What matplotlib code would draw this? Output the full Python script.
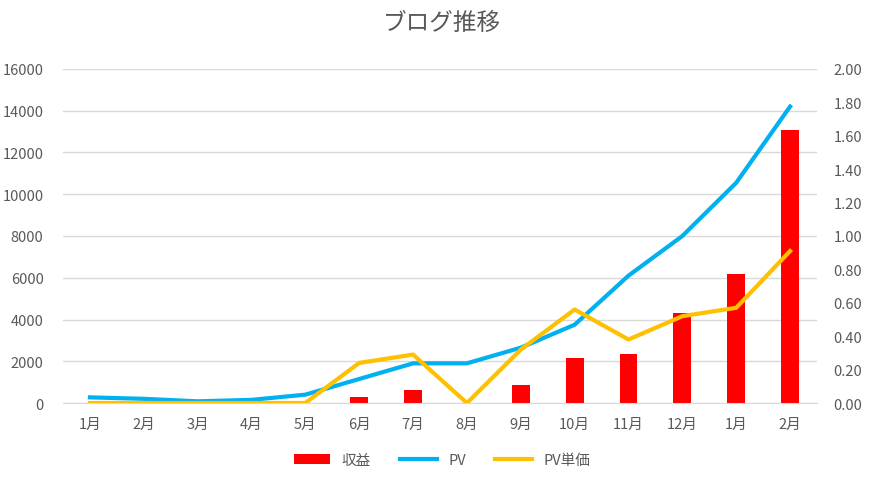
import matplotlib.pyplot as plt

plt.rcParams["font.family"] = ["Noto Sans CJK JP"]

months = ["1月", "2月", "3月", "4月", "5月", "6月", "7月", "8月", "9月", "10月", "11月", "12月", "1月", "2月"]
revenue = [0, 0, 0, 0, 0, 280, 600, 0, 870, 2150, 2330, 4300, 6200, 13100]
pv = [270, 200, 80, 150, 400, 1150, 1900, 1900, 2650, 3750, 6100, 8000, 10550, 14200]
pv_unit = [0, 0, 0, 0, 0, 0.24, 0.29, 0, 0.32, 0.56, 0.38, 0.52, 0.57, 0.91]

grey = "#595959"
fig = plt.figure(figsize=(8.84, 4.81), dpi=100)
ax = fig.add_axes([63 / 884, 1 - 404 / 481, (817 - 63) / 884, (404 - 70) / 481])
x = list(range(len(months)))
bars = ax.bar(x, revenue, width=0.33, color="#ff0000", label="収益", zorder=2)
line_pv, = ax.plot(x, pv, color="#00b0f0", lw=3, label="PV", zorder=3)
ax.set_ylim(0, 16000)
ax.set_yticks(range(0, 16001, 2000))
ax.set_xlim(-0.5, len(months) - 0.5)
ax.set_xticks(x)
ax.set_xticklabels(months)
ax.grid(axis="y", color="#d9d9d9", lw=1, zorder=0)
ax.set_axisbelow(True)

ax2 = ax.twinx()
line_unit, = ax2.plot(x, pv_unit, color="#ffc000", lw=3, label="PV単価", zorder=4)
ax2.set_ylim(0, 2.0)
ax2.set_yticks([i * 0.2 for i in range(11)])
ax2.set_yticklabels([f"{i * 0.2:.2f}" for i in range(11)])

for a in (ax, ax2):
    for s in a.spines.values():
        s.set_visible(False)
    a.tick_params(length=0, colors=grey, labelsize=10.5)
ax.spines["bottom"].set_visible(True)
ax.spines["bottom"].set_color("#d9d9d9")
ax.tick_params(axis="x", pad=10)
ax2.tick_params(axis="y", pad=12)
ax.tick_params(axis="y", pad=14)

fig.suptitle("ブログ推移", y=0.975, fontsize=17, color=grey)
fig.legend([bars, line_pv, line_unit], ["収益", "PV", "PV単価"], loc="lower center", ncol=3, frameon=False,
           bbox_to_anchor=(0.5, 0.0), fontsize=10.5, labelcolor=grey, handlelength=2.5, columnspacing=2)
fig.savefig("out.png")
